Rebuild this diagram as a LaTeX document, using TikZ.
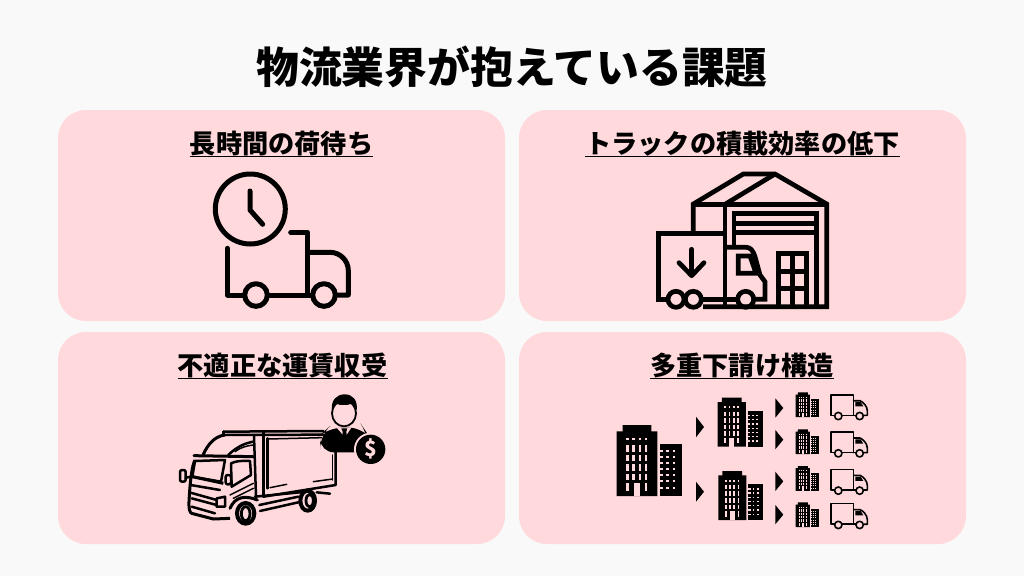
\documentclass[tikz,border=0pt]{standalone}
\usepackage{fontspec}
\setmainfont{Noto Sans CJK JP}
\definecolor{bgc}{HTML}{F9F9F9}
\definecolor{cardc}{HTML}{FFD9DC}
\newcommand{\bld}[3]{%
\begin{scope}[shift={(#1,#2)},scale=#3/3,shift={(-14,-15)}]
\fill (14,34)--(32,34)--(32,15)--(118,15)--(118,34)--(136,34)--(136,228)--(14,228)--cycle;
\fill (145,71) rectangle (210,228);
\foreach \wx in {42,61,80,98} \fill[cardc] (\wx,53) rectangle +(8,8);
\foreach \wx in {42,61,80,98} \foreach \wy in {76,104,133,161} \fill[cardc] (\wx,\wy) rectangle +(8,19);
\fill[cardc] (42,190) rectangle +(8,24);
\fill[cardc] (98,190) rectangle +(8,24);
\fill[cardc] (65,190) rectangle (85,228);
\foreach \wy in {90,108,126,145,163,181,200} {
  \fill[cardc] (145,\wy) rectangle +(9,6);
  \fill[cardc] (163,\wy) rectangle +(8,6);
  \fill[cardc] (182,\wy) rectangle +(8,6);
}
\end{scope}}
\newcommand{\smtruck}[1]{%
\begin{scope}[shift={(789.3,#1)},scale=1/3,shift={(0,-20)}]
\draw[smline] (135,82)--(125,82)--(125,20)--(193,20)--(193,82);
\draw[smline] (160,82)--(199,82);
\draw[smline] (147,84) circle (11);
\draw[smline] (211,84) circle (11);
\draw[smline] (193,38)--(212,38) .. controls (222,42) and (234,55) .. (234,68)--(234,82)--(223,82);
\fill (198,42)--(214,42)--(222,55)--(198,55)--cycle;
\end{scope}}
\tikzset{
  card/.style={fill=cardc,draw=none,rounded corners=28pt},
  heading/.style={font=\bfseries\fontsize{26.2}{26.2}\selectfont,anchor=base,inner sep=0pt},
  ul/.style={line width=1.7pt},
  icon/.style={line width=5pt,line cap=round,line join=round},
  wh/.style={line width=4.7pt,line cap=butt,line join=miter},
  smline/.style={line width=1.6pt,line join=round,line cap=round},
  ink/.style={line width=2.5pt,line cap=round,line join=round},
  thin ink/.style={line width=1.5pt,line cap=round,line join=round},
  tri/.style={fill=black,draw=none}
}
\begin{document}
\begin{tikzpicture}[x=1pt,y=-1pt]
\useasboundingbox (0,0) rectangle (1024,576);
\fill[bgc] (0,0) rectangle (1024,576);
\node[font=\bfseries\fontsize{42.8}{42.8}\selectfont,inner sep=0pt] (title) at (512,66.5) {物流業界が抱えている課題};
\fill[card] (58,110) rectangle (505,321);
\fill[card] (519,110) rectangle (966,321);
\fill[card] (58,332) rectangle (505,544);
\fill[card] (519,332) rectangle (966,544);
\node[heading] (h1) at (281.5,153.5) {長時間の荷待ち};
\node[heading] (h2) at (742.5,153.5) {トラックの積載効率の低下};
\node[heading] (h3) at (282.5,375.5) {不適正な運賃収受};
\node[heading] (h4) at (742,375.5) {多重下請け構造};
\foreach \n in {h1,h2,h3,h4} \draw[ul] ([yshift=-3pt]\n.base west)--([yshift=-3pt]\n.base east);
% icon 1
\draw[icon] (250.3,209) circle (35);
\draw[icon] (250,191)--(250,210)--(262.7,224.3);
\draw[icon] (227.3,248.3)--(227.3,295)--(244,295);
\draw[icon] (256,295) circle (11.3);
\draw[icon] (324,295) circle (11.3);
\draw[icon] (268,295)--(312,295);
\draw[icon] (290.7,232.3)--(307.7,232.3)--(307.7,295);
\draw[icon] (307.7,252.3)--(330,252.3) arc[start angle=-90,end angle=0,radius=18.3]--(348.3,295)--(336,295);
% icon 2
\begin{scope}[wh]
\draw (693.3,232)--(693.3,204)--(743.3,174)--(775,174)--(826.7,204)--(826.7,306.7)--(703,306.7);
\draw (693.3,204.3)--(826.7,204.3);
\draw (725,204.3)--(775,174);
\draw (725,204.3)--(725,306.7);
\draw (734,246)--(734,213.3)--(816.7,213.3)--(816.7,306.7);
\draw (734,223.3)--(816.7,223.3);
\draw (734,232.7)--(816.7,232.7);
\draw (778.3,306.7)--(778.3,253.3)--(806.7,253.3)--(806.7,306.7);
\draw (792.7,253.3)--(792.7,306.7);
\draw (778.3,271.7)--(806.7,271.7);
\draw (778.3,288.3)--(806.7,288.3);
\draw (725,233.3)--(658.3,233.3)--(658.3,299.3)--(667,299.3);
\draw (676,299.3) circle (8);
\draw (693.3,299.3) circle (8);
\draw (745.7,299.3) circle (8);
\draw (702,299.3)--(737,299.3);
\draw (754,299.3)--(765,299.3)--(765,281.7)--(760,275)--(755,256.7) .. controls (753,250) and (750,247.3) .. (746,247.3)--(725,247.3);
\draw (738.3,256)--(750,256)--(756,273.3)--(738.3,273.3)--cycle;
\draw[line cap=round,line join=round] (691.7,249.3)--(691.7,275);
\draw[line cap=round,line join=round] (679,262.7)--(691.7,275.7)--(704,262.7);
\end{scope}
% icon 3
\begin{scope}[shift={(170,385)},scale=1/3]
\draw[ink] (160,140)--(460,138);
\draw[ink] (160,150)--(460,149);
\draw[ink] (160,140)--(160,150);
\draw[ink] (280,140)--(280,335);
\draw[ink] (293,160)--(293,310);
\draw[thin ink] (293,162)--(455,158);
\draw[ink] (497,198)--(497,300)--(280,335);
\draw[thin ink] (488,210)--(488,285);
\draw[thin ink] (300,308)--(350,298);
\draw[thin ink] (430,290)--(488,282);
\draw[ink] (252,152)--(258,335);
\draw[line width=3pt,line cap=round] (100,208) .. controls (115,175) and (135,155) .. (163,150);
\draw[ink] (175,210) .. controls (195,190) and (220,175) .. (250,170);
\draw[thin ink] (195,200) .. controls (210,188) and (230,182) .. (250,180);
\draw[line width=3pt,line cap=round] (72,212)--(250,215);
\draw[ink] (75,228)--(165,225)--(153,290)--(67,275)--cycle;
\draw[line width=3pt,line join=round] (75,225) .. controls (66,240) and (60,290) .. (57,350) .. controls (56,375) and (60,382) .. (65,385)--(130,402)--(180,400);
\draw[ink] (58,322)--(140,345);
\draw[ink] (65,340)--(140,360);
\draw[ink] (65,365)--(135,385);
\draw[ink] (62,300)--(150,315);
\draw[ink] (140,340)--(165,335)--(165,365)--(140,365)--cycle;
\draw[line width=3pt] (67,275)--(160,295);
\draw[ink] (183,235) .. controls (195,228) and (225,226) .. (240,228)--(243,270)--(185,305)--cycle;
\draw[ink,fill=cardc,rounded corners=2pt] (30,255) rectangle (47,290);
\draw[ink] (47,278)--(65,275);
\draw[ink,fill=cardc,rounded corners=2pt] (167,270) rectangle (183,298);
\draw[thin ink] (180,330)--(250,295);
\draw[thin ink] (190,340)--(250,310);
\draw[line width=3pt,line cap=round] (180,370) .. controls (195,335) and (225,330) .. (262,345);
\draw[ink] (255,335)--(390,322);
\draw[ink] (268,360)--(385,335);
\draw[ink] (270,378)--(385,352);
\draw[line width=4pt,fill=cardc] (227,385) ellipse (26 and 31);
\draw[line width=2.8pt] (227,386) ellipse (13 and 21);
\draw[line width=4pt,fill=cardc] (413,347) ellipse (22 and 30);
\draw[line width=2.8pt] (419,347) ellipse (11 and 19);
\draw[ink] (440,322)--(480,326);
\end{scope}
% person
\begin{scope}[shift={(270,390)},scale=1/3]
\draw[line width=1.8pt,fill=cardc] (222,70) ellipse (36 and 39);
\fill (186,62) .. controls (182,30) and (200,13) .. (224,13) .. controls (248,13) and (264,30) .. (260,62) .. controls (256,50) and (252,42) .. (244,42) .. controls (230,46) and (210,46) .. (200,42) .. controls (194,46) and (190,52) .. (186,62)--cycle;
\fill[rounded corners=14pt] (150,187)--(150,135)--(175,113)--(280,113)--(295,135)--(295,187)--cycle;
\fill[cardc] (200,113)--(244,113)--(225,142)--cycle;
\fill (214,115)--(232,115)--(229,125)--(232,150)--(223,150)--(216,150)--(218,125)--cycle;
\fill[cardc] (302,178) circle (50);
\fill (302,178) circle (44);
\node[text=cardc,font=\bfseries\fontsize{21}{21}\selectfont,inner sep=0pt] (dollar) at (302,178) {\$};
\end{scope}
% icon 4
\bld{616.7}{425}{1}
\bld{717.7}{397.7}{0.69}
\bld{718.3}{471}{0.69}
\bld{795.7}{392.3}{0.35}
\bld{795.7}{429.3}{0.35}
\bld{795.7}{466}{0.35}
\bld{795.7}{502.3}{0.35}
\foreach \ty in {394.7,432,469.3,503.6} {\smtruck{\ty}}
\foreach \tx/\ta/\tb in {696/416.7/437.3,696/481.7/501.7,775.3/398.3/417.7,775.3/430/449.3,775.3/471.7/491,775.3/505/524.3}
  \fill[tri] (\tx,\ta)--(\tx+8,{(\ta+\tb)/2})--(\tx,\tb)--cycle;
\end{tikzpicture}
\end{document}
